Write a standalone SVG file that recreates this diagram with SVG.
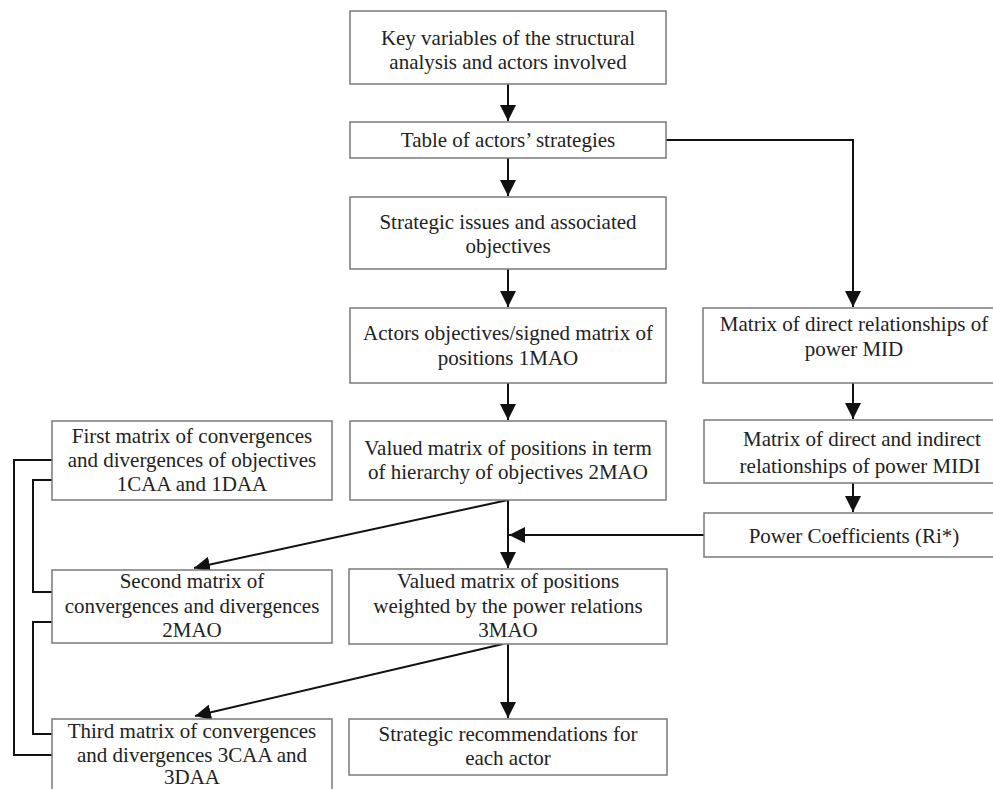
<svg xmlns="http://www.w3.org/2000/svg" width="993" height="789" viewBox="0 0 993 789">
<defs>
<style>
.box{fill:#fff;stroke:#7a7a7a;stroke-width:1.5}
.t{font-family:'Liberation Serif','DejaVu Serif','Times New Roman',serif;font-size:21px;fill:#222;text-anchor:middle}
.c{fill:none;stroke:#111;stroke-width:2}
</style>
<marker id="ah" markerUnits="userSpaceOnUse" markerWidth="16" markerHeight="16" refX="14" refY="7" orient="auto" viewBox="0 0 14 14">
<path d="M0,0 L14,7 L0,14 z" fill="#111"/>
</marker>
</defs>
<rect width="993" height="789" fill="#fff"/>
<g id="connectors">
<path class="c" d="M508,84 V121" marker-end="url(#ah)"/>
<path class="c" d="M508,158 V196" marker-end="url(#ah)"/>
<path class="c" d="M508,269 V307" marker-end="url(#ah)"/>
<path class="c" d="M508,383 V420" marker-end="url(#ah)"/>
<path class="c" d="M666,140 H853 V307" marker-end="url(#ah)"/>
<path class="c" d="M853,383 V419" marker-end="url(#ah)"/>
<path class="c" d="M853,483 V512" marker-end="url(#ah)"/>
<path class="c" d="M508,500 V568" marker-end="url(#ah)"/>
<path class="c" d="M704,535 H509" marker-end="url(#ah)"/>
<path class="c" d="M508,500 L194,568" marker-end="url(#ah)"/>
<path class="c" d="M503,644 L195,716" marker-end="url(#ah)"/>
<path class="c" d="M508,644 V718" marker-end="url(#ah)"/>
<path class="c" d="M52,460 H14 V755 H52"/>
<path class="c" d="M52,480 H33 V592 H52"/>
<path class="c" d="M52,622 H33 V734 H52"/>
</g>
<g id="key-variables">
<rect class="box" x="350" y="11" width="316" height="73"/>
<text class="t" x="508" y="45" font-family="Liberation Serif">Key variables of the structural</text>
<text class="t" x="508" y="69">analysis and actors involved</text>
</g>
<g id="actors-strategies">
<rect class="box" x="350" y="122" width="316" height="36"/>
<text class="t" x="508" y="147">Table of actors’ strategies</text>
</g>
<g id="strategic-issues">
<rect class="box" x="350" y="197" width="316" height="72"/>
<text class="t" x="508" y="229">Strategic issues and associated</text>
<text class="t" x="508" y="253">objectives</text>
</g>
<g id="mao1">
<rect class="box" x="350" y="308" width="316" height="75"/>
<text class="t" x="508" y="340">Actors objectives/signed matrix of</text>
<text class="t" x="508" y="365">positions 1MAO</text>
</g>
<g id="mao2">
<rect class="box" x="350" y="421" width="316" height="79"/>
<text class="t" x="508" y="455">Valued matrix of positions in term</text>
<text class="t" x="508" y="479">of hierarchy of objectives 2MAO</text>
</g>
<g id="mid">
<rect class="box" x="703" y="308" width="300" height="75"/>
<text class="t" x="854" y="331">Matrix of direct relationships of</text>
<text class="t" x="854" y="356">power MID</text>
</g>
<g id="midi">
<rect class="box" x="704" y="420" width="300" height="63"/>
<text class="t" x="862" y="446">Matrix of direct and indirect</text>
<text class="t" x="860" y="473">relationships of power MIDI</text>
</g>
<g id="power">
<rect class="box" x="704" y="513" width="300" height="44"/>
<text class="t" x="854" y="543">Power Coefficients (Ri*)</text>
</g>
<g id="first-matrix">
<rect class="box" x="52" y="421" width="280" height="79"/>
<text class="t" x="192" y="443">First matrix of convergences</text>
<text class="t" x="192" y="467">and divergences of objectives</text>
<text class="t" x="192" y="491">1CAA and 1DAA</text>
</g>
<g id="second-matrix">
<rect class="box" x="52" y="570" width="280" height="73"/>
<text class="t" x="192" y="588">Second matrix of</text>
<text class="t" x="192" y="613">convergences and divergences</text>
<text class="t" x="192" y="637">2MAO</text>
</g>
<g id="third-matrix">
<rect class="box" x="52" y="719" width="280" height="80"/>
<text class="t" x="192" y="738">Third matrix of convergences</text>
<text class="t" x="192" y="762">and divergences 3CAA and</text>
<text class="t" x="192" y="784">3DAA</text>
</g>
<g id="mao3">
<rect class="box" x="349" y="569" width="318" height="75"/>
<text class="t" x="508" y="588">Valued matrix of positions</text>
<text class="t" x="508" y="613">weighted by the power relations</text>
<text class="t" x="508" y="637">3MAO</text>
</g>
<g id="recommendations">
<rect class="box" x="349" y="719" width="318" height="56"/>
<text class="t" x="508" y="741">Strategic recommendations for</text>
<text class="t" x="508" y="765">each actor</text>
</g>
</svg>
